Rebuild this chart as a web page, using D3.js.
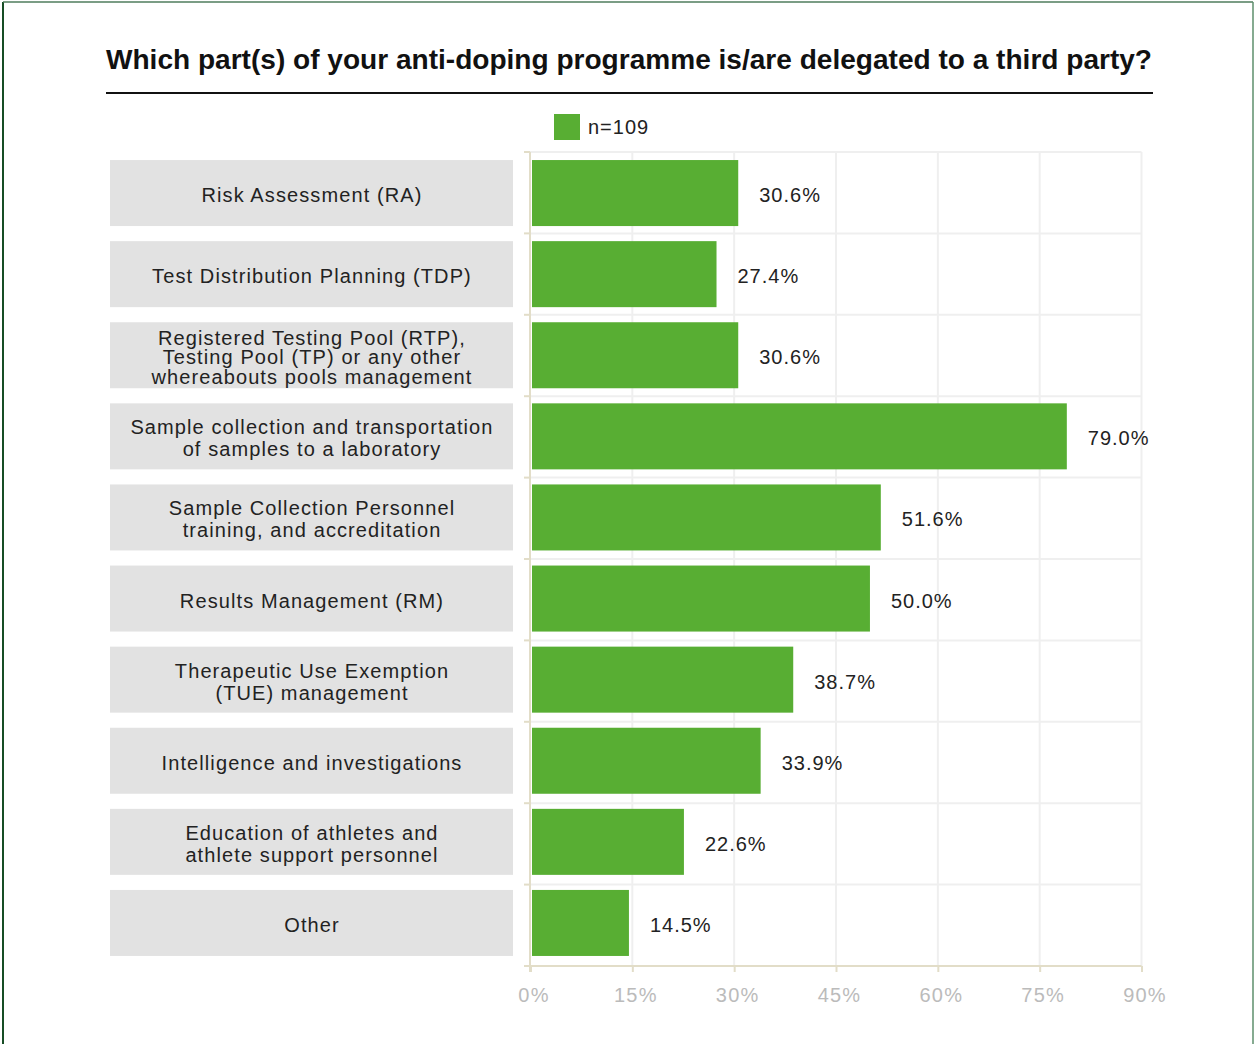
<!DOCTYPE html>
<html>
<head>
<meta charset="utf-8">
<script src="https://cdn.jsdelivr.net/npm/d3@7"></script>
<style>
  html, body { margin: 0; padding: 0; background: #ffffff; }
  svg { display: block; }
  text { font-family: "Liberation Sans", Arial, Helvetica, sans-serif; }
</style>
</head>
<body>
<svg id="chart" width="1255" height="1044"></svg>
<script>
// Survey question and response count
const title = "Which part(s) of your anti-doping programme is/are delegated to a third party?";
const seriesName = "n=109";

// Programme parts (each entry holds the lines of its label)
const categories = [
  ["Risk Assessment (RA)"],
  ["Test Distribution Planning (TDP)"],
  ["Registered Testing Pool (RTP),", "Testing Pool (TP) or any other", "whereabouts pools management"],
  ["Sample collection and transportation", "of samples to a laboratory"],
  ["Sample Collection Personnel", "training, and accreditation"],
  ["Results Management (RM)"],
  ["Therapeutic Use Exemption", "(TUE) management"],
  ["Intelligence and investigations"],
  ["Education of athletes and", "athlete support personnel"],
  ["Other"]
];

// Share of respondents (%)
const values = [30.6, 27.4, 30.6, 79.0, 51.6, 50.0, 38.7, 33.9, 22.6, 14.5];

// Axis ticks (%)
const xTicks = [0, 15, 30, 45, 60, 75, 90];

const svg = d3.select("#chart");
const green = "#58ae33";
const axisColor = "#e2ddc8";
const gridColor = "#efefef";

// frame
svg.append("line").attr("x1", 3).attr("x2", 3).attr("y1", 2).attr("y2", 1044)
  .attr("stroke", "#174d25").attr("stroke-width", 2);
svg.append("line").attr("x1", 3).attr("x2", 1253).attr("y1", 2).attr("y2", 2)
  .attr("stroke", "#4f7d5d").attr("stroke-width", 1.5);
svg.append("line").attr("x1", 1253).attr("x2", 1253).attr("y1", 2).attr("y2", 1044)
  .attr("stroke", "#5e8f6c").attr("stroke-width", 1.5);

// title and rule
svg.append("text")
  .attr("x", 106).attr("y", 69)
  .attr("font-size", 28).attr("font-weight", "bold").attr("fill", "#111")
  .attr("textLength", 1046).attr("lengthAdjust", "spacingAndGlyphs")
  .text(title);
svg.append("line").attr("x1", 106).attr("x2", 1153).attr("y1", 93).attr("y2", 93)
  .attr("stroke", "#111").attr("stroke-width", 2);

// legend
svg.append("rect").attr("x", 554).attr("y", 114).attr("width", 26).attr("height", 26).attr("fill", green);
svg.append("text").attr("x", 588).attr("y", 126).attr("dy", "0.38em")
  .attr("font-size", 20).attr("letter-spacing", 1).attr("fill", "#222").text(seriesName);

// scales
const x = d3.scaleLinear().domain([0, 90]).range([530.5, 1141.5]);
const y = d3.scaleBand().domain(d3.range(categories.length)).range([152.5, 963.5])
  .paddingInner(0.186).paddingOuter(0.093);
const rowEdges = d3.range(categories.length + 1).map(i => 152 + i * (966 - 152) / categories.length);

// vertical grid
svg.append("g").selectAll("line").data(xTicks.slice(1)).join("line")
  .attr("x1", d => x(d)).attr("x2", d => x(d)).attr("y1", 152).attr("y2", 966)
  .attr("stroke", gridColor).attr("stroke-width", 2);

// horizontal grid at row edges
svg.append("g").selectAll("line").data(rowEdges.slice(0, -1)).join("line")
  .attr("x1", 530).attr("x2", 1141.5).attr("y1", d => d).attr("y2", d => d)
  .attr("stroke", gridColor).attr("stroke-width", 2);

// bottom axis
const xAxis = d3.axisBottom(x).tickValues(xTicks).tickFormat(d => d + "%").tickSize(6).tickPadding(16);
const gx = svg.append("g").attr("transform", "translate(0,966)").call(xAxis);
gx.select(".domain").attr("stroke", axisColor).attr("stroke-width", 2).attr("d", "M524,0H1141.5");
gx.selectAll(".tick line").attr("stroke", axisColor).attr("stroke-width", 2);
gx.selectAll(".tick text").attr("font-size", 20).attr("fill", "#bbbbbb").attr("letter-spacing", 1.2)
  .attr("font-family", "\"Liberation Sans\", Arial, sans-serif").attr("dx", 3);

// left axis line with ticks at row edges
svg.append("line").attr("x1", 530).attr("x2", 530).attr("y1", 152).attr("y2", 972)
  .attr("stroke", axisColor).attr("stroke-width", 2);
svg.append("g").selectAll("line").data(rowEdges.slice(0, -1)).join("line")
  .attr("x1", 524).attr("x2", 530).attr("y1", d => d).attr("y2", d => d)
  .attr("stroke", axisColor).attr("stroke-width", 2);

// category label boxes
const rows = svg.append("g").selectAll("g").data(categories).join("g")
  .attr("transform", (d, i) => `translate(0,${y(i)})`);
rows.append("rect").attr("x", 110).attr("y", 0).attr("width", 403).attr("height", y.bandwidth())
  .attr("fill", "#e2e2e2");
rows.append("text")
  .attr("x", 311.5)
  .attr("text-anchor", "middle")
  .attr("font-size", 20).attr("letter-spacing", 1.1).attr("fill", "#222")
  .each(function(lines) {
    const lh = lines.length > 2 ? 19.5 : 22;
    const t = d3.select(this);
    lines.forEach((ln, k) => {
      t.append("tspan").attr("x", 312)
        .attr("y", y.bandwidth() / 2 + 2 + (k - (lines.length - 1) / 2) * lh)
        .attr("dy", "0.35em").text(ln);
    });
  });

// bars
svg.append("g").selectAll("rect").data(values).join("rect")
  .attr("x", x(0) + 1.5).attr("y", (d, i) => y(i))
  .attr("width", d => x(d) - x(0) - 1.5).attr("height", y.bandwidth())
  .attr("fill", green);

// value labels
svg.append("g").selectAll("text").data(values).join("text")
  .attr("x", d => x(d) + 21).attr("y", (d, i) => y(i) + y.bandwidth() / 2 + 2).attr("dy", "0.35em")
  .attr("font-size", 20).attr("letter-spacing", 1).attr("fill", "#222")
  .text(d => d.toFixed(1) + "%");
</script>
</body>
</html>
